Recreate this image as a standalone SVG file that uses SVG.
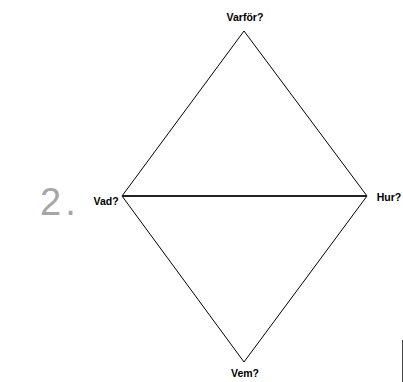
<svg xmlns="http://www.w3.org/2000/svg" width="403" height="382" viewBox="0 0 403 382">
<style>
.lbl{font-family:"Liberation Sans",Arial,sans-serif;font-weight:bold;font-size:10.5px;fill:#000}
.edge{stroke:#000;stroke-width:1;fill:none}
</style>
<rect width="403" height="382" fill="#fff"/>
<g id="connectors">
<path class="edge" d="M244,31 L122,196"/>
<path class="edge" d="M244,31 L367,196"/>
<path class="edge" d="M122,196 L244,362"/>
<path class="edge" d="M367,196 L244,362"/>
<line x1="122" y1="196" x2="367" y2="196" stroke="#222" stroke-width="2"/>
</g>
<g id="varfor"><text class="lbl" x="245" y="21" text-anchor="middle">Varför?</text></g>
<g id="vad"><text class="lbl" x="106" y="205" text-anchor="middle">Vad?</text></g>
<g id="hur"><text class="lbl" x="389" y="201" text-anchor="middle">Hur?</text></g>
<g id="vem"><text class="lbl" x="245" y="377" text-anchor="middle">Vem?</text></g>
<text x="40" y="215" font-family="Liberation Sans,Arial,sans-serif" font-size="38" letter-spacing="4" fill="#a6a6a6">2.</text>
<line x1="402.5" y1="340" x2="402.5" y2="382" stroke="#444" stroke-width="1"/>
</svg>
